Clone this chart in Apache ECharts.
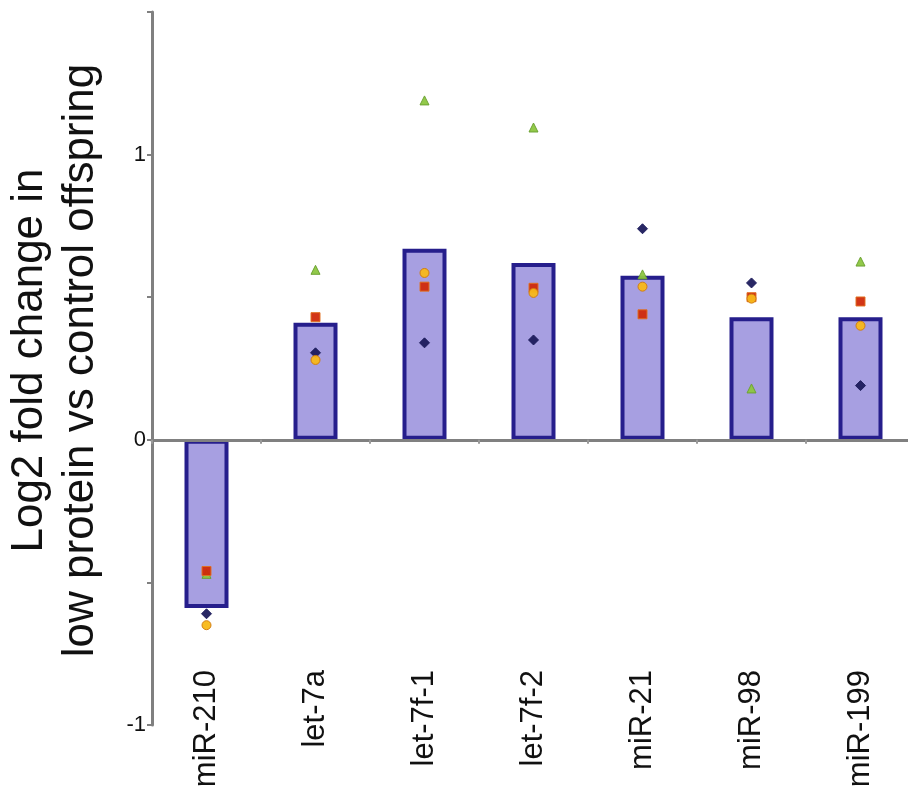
<!DOCTYPE html>
<html>
<head>
<meta charset="utf-8">
<script src="https://cdn.jsdelivr.net/npm/echarts@6/dist/echarts.min.js"></script>
<style>
html,body{margin:0;padding:0;background:#fff;}
#chart{width:908px;height:791px;}
</style>
</head>
<body>
<div id="chart"></div>
<script>
const categories = ['miR-210', 'let-7a', 'let-7f-1', 'let-7f-2', 'miR-21', 'miR-98', 'miR-199'];
const meanValues = [-0.59, 0.41, 0.67, 0.62, 0.575, 0.43, 0.43];
const blueValues = [-0.61, 0.305, 0.34, 0.35, 0.74, 0.55, 0.19];
const redValues = [-0.46, 0.43, 0.537, 0.533, 0.44, 0.50, 0.485];
const orangeValues = [-0.65, 0.28, 0.585, 0.515, 0.537, 0.495, 0.40];
const greenValues = [-0.47, 0.596, 1.19, 1.095, 0.58, 0.18, 0.625];
const yTickLabels = ['-1', '0', '1'];

const FONT = '"Liberation Sans", Arial, sans-serif';
const chart = echarts.init(document.getElementById('chart'), null, {renderer: 'canvas'});

function scatter(name, data, symbol, color, border, size, z) {
  return {
    name: name, type: 'scatter', data: data, symbol: symbol, symbolSize: size, z: z,
    itemStyle: {color: color, borderColor: border, borderWidth: 1, opacity: 0.95},
    silent: true
  };
}

chart.setOption({
  animation: false,
  backgroundColor: '#ffffff',
  grid: {left: 152, top: 12, width: 763, bottom: 66, containLabel: false, outerBoundsMode: 'none'},
  xAxis: [
    {
      type: 'category',
      data: categories,
      axisLine: {onZero: true, lineStyle: {color: '#808080', width: 3}},
      axisTick: {show: true, alignWithLabel: false, length: 4, lineStyle: {color: '#999', width: 2}},
      axisLabel: {show: false},
      z: 5
    },
    {
      type: 'category',
      data: categories,
      position: 'bottom',
      axisLine: {show: false, onZero: false},
      axisTick: {show: false},
      axisLabel: {
        show: true, rotate: 90, margin: -55, fontSize: 31, color: '#111', fontFamily: FONT,
        hideOverlap: false
      }
    }
  ],
  yAxis: {
    type: 'value',
    min: -1, max: 1.5, interval: 0.5,
    name: 'Log2 fold change in\nlow protein vs control offspring',
    nameLocation: 'middle',
    nameGap: 46,
    nameTextStyle: {fontSize: 44, lineHeight: 51, color: '#111', fontFamily: FONT, padding: [0, 0, 0, 16]},
    axisLine: {show: true, lineStyle: {color: '#808080', width: 3}},
    axisTick: {show: true, length: 5, lineStyle: {color: '#808080', width: 2}},
    splitLine: {show: false},
    axisLabel: {
      margin: 6, fontSize: 22, color: '#111', fontFamily: FONT,
      formatter: function (v) {
        const s = String(Math.round(v));
        return (Math.abs(v - Math.round(v)) < 1e-6 && yTickLabels.indexOf(s) >= 0) ? s : '';
      }
    }
  },
  series: [
    {
      name: 'mean', type: 'bar', data: meanValues, barWidth: 44,
      itemStyle: {color: '#a79fe1', borderColor: '#261e8c', borderWidth: 4},
      z: 2, silent: true
    },
    scatter('green', greenValues, 'triangle', '#8cc640', '#6aa030', 9, 3),
    scatter('blue', blueValues, 'diamond', '#1c1b5c', '#1c1b5c', 10, 4),
    scatter('red', redValues, 'rect', '#d02a0a', '#e07020', 9, 5),
    scatter('orange', orangeValues, 'circle', '#f8b818', '#d07a10', 9, 6)
  ]
});
</script>
</body>
</html>
